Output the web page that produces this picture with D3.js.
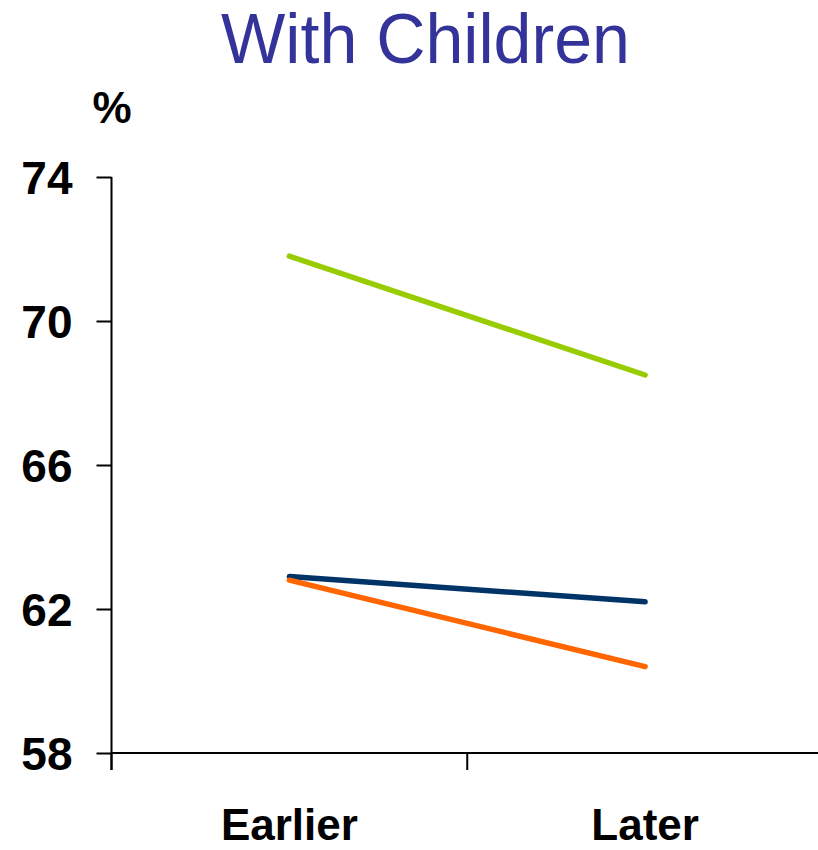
<!DOCTYPE html>
<html><head><meta charset="utf-8">
<script src="https://cdn.jsdelivr.net/npm/d3@7"></script>
<style>body{margin:0;background:#fff}svg{display:block}</style>
</head><body>
<script>
const categories = ["Earlier", "Later"];
const seriesNames = ["Green", "Navy", "Orange"];
const greenValues = [71.8, 68.5];
const navyValues = [62.9, 62.2];
const orangeValues = [62.8, 60.4];
const yTicks = [58, 62, 66, 70, 74];
const seriesColors = ["#99cc00", "#003366", "#ff6600"];

const W = 818, H = 850;
const svg = d3.select("body").append("svg").attr("width", W).attr("height", H);
const font = "'Liberation Sans', Arial, sans-serif";

const y = d3.scaleLinear().domain([58, 74]).range([753, 177]);
const x = d3.scaleBand().domain(categories).range([111.5, 823]).paddingInner(0).paddingOuter(0);

// title
svg.append("text").attr("x", 221).attr("y", 63)
  .attr("font-family", font).attr("font-size", 71).attr("fill", "#333399")
  .attr("textLength", 409).attr("lengthAdjust", "spacingAndGlyphs")
  .text("With Children");
svg.append("text").attr("x", 112).attr("y", 123).attr("text-anchor", "middle")
  .attr("font-family", font).attr("font-size", 44).attr("font-weight", "bold")
  .text("%");

// y axis
const yAxis = svg.append("g").attr("transform", "translate(111.5,0)")
  .call(d3.axisLeft(y).tickValues(yTicks).tickSize(15).tickPadding(24).tickSizeOuter(0));
yAxis.select(".domain").remove();
yAxis.selectAll(".tick line").attr("stroke", "#000").attr("stroke-width", 2);
yAxis.selectAll(".tick text").attr("font-family", font).attr("font-size", 46)
  .attr("font-weight", "bold").attr("fill", "#000").attr("dy", "0.36em");
svg.append("line").attr("x1", 111.5).attr("x2", 111.5).attr("y1", y(74)).attr("y2", 770)
  .attr("stroke", "#000").attr("stroke-width", 2);

// x axis
svg.append("line").attr("x1", 111.5).attr("x2", W).attr("y1", y(58)).attr("y2", y(58))
  .attr("stroke", "#000").attr("stroke-width", 2);
svg.selectAll(".xtick").data(categories).enter().append("line")
  .attr("x1", d => x(d)).attr("x2", d => x(d)).attr("y1", y(58)).attr("y2", 770)
  .attr("stroke", "#000").attr("stroke-width", 2);
svg.selectAll(".xlab").data(categories).enter().append("text")
  .attr("x", d => x(d) + x.bandwidth() / 2).attr("y", 840).attr("text-anchor", "middle")
  .attr("font-family", font).attr("font-size", 44).attr("font-weight", "bold")
  .text(d => d);

// lines
const series = [greenValues, navyValues, orangeValues];
const line = d3.line().x((d, i) => x(categories[i]) + x.bandwidth() / 2).y(d => y(d));
svg.selectAll(".series").data(series).enter().append("path")
  .attr("d", d => line(d)).attr("fill", "none")
  .attr("stroke", (d, i) => seriesColors[i]).attr("stroke-width", 5.5)
  .attr("stroke-linecap", "round");
</script>
</body></html>
